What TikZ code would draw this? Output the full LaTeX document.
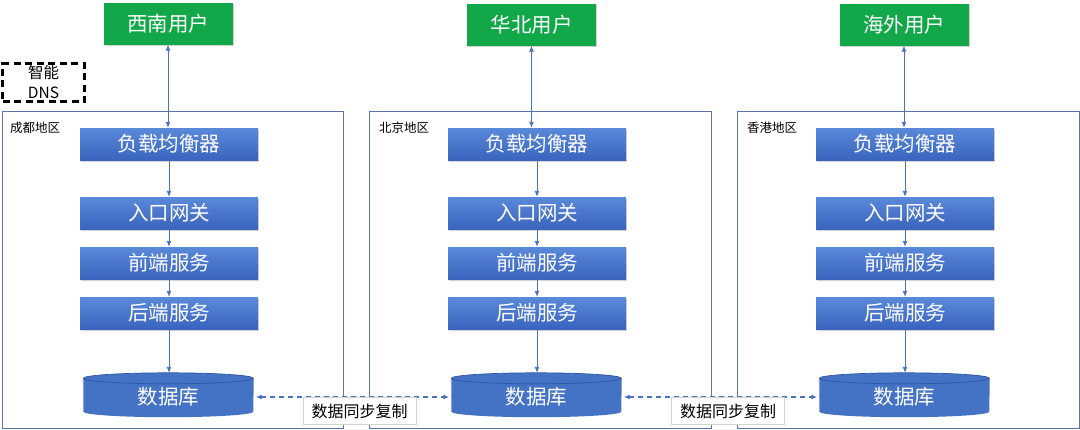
\documentclass[tikz,border=0pt]{standalone}
\usepackage{fontspec}
\setmainfont{Noto Sans CJK SC}
\setsansfont{Noto Sans CJK SC}
\usetikzlibrary{arrows.meta,shadows}
\definecolor{bluetop}{HTML}{5A89DA}
\definecolor{bluebot}{HTML}{3A64BE}
\definecolor{dbblue}{HTML}{4472C4}
\definecolor{dbrim}{HTML}{2F55A0}
\definecolor{usergreen}{HTML}{12A84A}
\definecolor{linecol}{HTML}{4A72C0}
\definecolor{regioncol}{HTML}{5A75A8}
\definecolor{labelborder}{HTML}{D4D4D4}
\tikzset{
  userbox/.style={rectangle, fill=usergreen, text=white, font=\fontsize{20.5}{21}\selectfont,
    minimum width=129pt, minimum height=42pt, inner sep=0pt,
    drop shadow={shadow xshift=1pt, shadow yshift=-1.5pt, opacity=0.35}},
  svcbox/.style={rectangle, top color=bluetop, bottom color=bluebot, text=white,
    font=\fontsize{20.5}{21}\selectfont, minimum width=178pt, minimum height=32pt, inner sep=0pt,
    drop shadow={shadow xshift=1pt, shadow yshift=-1.5pt, opacity=0.35}},
  region/.style={draw=regioncol, line width=0.8pt, rectangle, inner sep=0pt},
  regionlabel/.style={anchor=west, font=\fontsize{12.5}{13}\selectfont, inner sep=0pt},
  dbnode/.style={rectangle, minimum width=170pt, minimum height=44pt, inner sep=0pt},
  dbtext/.style={text=white, font=\fontsize{20.5}{21}\selectfont},
  flow/.style={draw=linecol, line width=0.9pt, -{Latex[length=6pt,width=5pt]}},
  bidir/.style={draw=linecol, line width=0.9pt, {Latex[length=6pt,width=5pt]}-{Latex[length=6pt,width=5pt]}},
  sync/.style={draw=linecol, line width=1.4pt, dash pattern=on 5pt off 4pt,
    {Latex[length=6pt,width=5pt]}-{Latex[length=6pt,width=5pt]}},
  synclabel/.style={rectangle, fill=white, draw=labelborder, line width=0.6pt,
    font=\fontsize{16}{17}\selectfont, minimum width=113pt, minimum height=27pt, inner sep=0pt},
  dnsbox/.style={rectangle, draw=black, line width=2.6pt, dash pattern=on 7pt off 4.5pt,
    minimum width=82pt, minimum height=38pt, inner sep=0pt},
  dnstext/.style={font=\fontsize{15.5}{16}\selectfont, inner sep=0pt}
}
\newcommand{\dbshape}[1]{%
  \fill[dbblue] ([yshift=-5.5pt]#1.north west) -- ([yshift=5.5pt]#1.south west)
     arc[start angle=180, end angle=360, x radius=85pt, y radius=5.5pt]
     -- ([yshift=-5.5pt]#1.north east)
     arc[start angle=0, end angle=180, x radius=85pt, y radius=5.5pt] -- cycle;
  \draw[dbrim, line width=0.7pt] ([yshift=-5.5pt]#1.north west)
     arc[start angle=180, end angle=540, x radius=85pt, y radius=5.5pt];
}
\begin{document}
\begin{tikzpicture}[x=1pt,y=-1pt]
\useasboundingbox (0,0) rectangle (1080,429);
\fill[white] (0,0) rectangle (1080,429);

% regions
\node[region, minimum width=341pt, minimum height=317pt] (r1) at (172.5,269.5) {};
\node[region, minimum width=342pt, minimum height=317pt] (r2) at (540,269.5) {};
\node[region, minimum width=342pt, minimum height=317pt] (r3) at (908,269.5) {};
\node[regionlabel] (l1) at (10,128) {成都地区};
\node[regionlabel] (l2) at (379,128) {北京地区};
\node[regionlabel] (l3) at (747,128) {香港地区};

% DNS
\node[dnsbox] (dns) at (43.5,82.5) {};
\node[dnstext] (dns1) at (43.5,72.5) {智能};
\node[dnstext] (dns2) at (43.5,92.5) {DNS};

% users
\node[userbox] (u1) at (168,23.5) {西南用户};
\node[userbox] (u2) at (531.5,24.5) {华北用户};
\node[userbox] (u3) at (904,24.5) {海外用户};

% column services
\foreach \i/\cx in {1/169, 2/537, 3/905}{
  \node[svcbox] (lb\i) at (\cx,144) {负载均衡器};
  \node[svcbox] (gw\i) at (\cx,213) {入口网关};
  \node[svcbox] (fe\i) at (\cx,263) {前端服务};
  \node[svcbox] (be\i) at (\cx,313) {后端服务};
}
\node[dbnode] (db1) at (168.5,395) {};
\node[dbnode] (db2) at (536.5,395) {};
\node[dbnode] (db3) at (904.5,395) {};
\dbshape{db1}
\dbshape{db2}
\dbshape{db3}
\node[dbtext] (t1) at ([yshift=-2pt]db1.center) {数据库};
\node[dbtext] (t2) at ([yshift=-2pt]db2.center) {数据库};
\node[dbtext] (t3) at ([yshift=-2pt]db3.center) {数据库};

% arrows
\draw[bidir] (u1.south) -- (u1.south |- lb1.north);
\draw[bidir] (u2.south) -- (u2.south |- lb2.north);
\draw[bidir] (u3.south) -- (u3.south |- lb3.north);
\foreach \i in {1,2,3}{
  \draw[flow] (lb\i) -- (gw\i);
  \draw[flow] (gw\i) -- (fe\i);
  \draw[flow] (fe\i) -- (be\i);
  \draw[flow] (be\i.south) -- (be\i.south |- db\i.north);
}
\draw[sync] ([xshift=2pt,yshift=-2pt]db1.east) -- ([xshift=-2pt,yshift=-2pt]db2.west);
\draw[sync] ([xshift=2pt,yshift=-2pt]db2.east) -- ([xshift=-2pt,yshift=-2pt]db3.west);
\node[synclabel] (s1) at (359.5,411) {数据同步复制};
\node[synclabel] (s2) at (728,411) {数据同步复制};
\end{tikzpicture}
\end{document}
